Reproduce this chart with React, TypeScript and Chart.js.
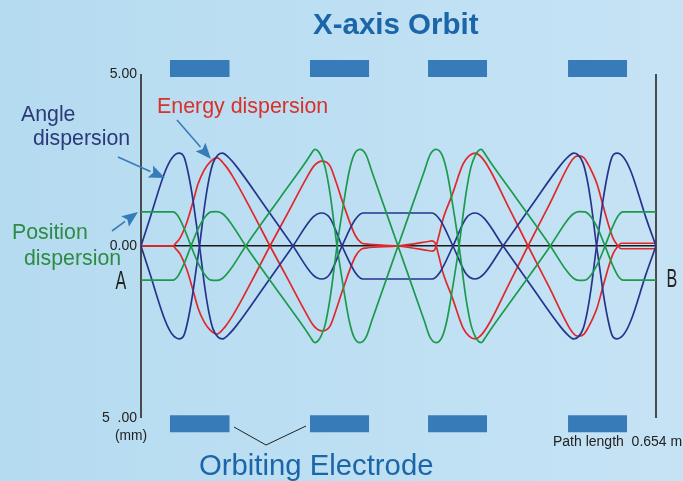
import React, { useEffect, useRef } from "react";
import { Chart, registerables } from "chart.js";

Chart.register(...registerables);

const angleX = [0, 11.4, 30.5, 39.4, 48.3, 54.6, 59.7, 66, 69.9, 74.3, 81.3, 86.4, 91.4, 97.8, 103.5, 110.5, 120.7, 156.7, 193, 218.4, 229.5, 240, 255.3, 271.8, 281.9, 326.4, 369.6, 379.7, 396.2, 412.8, 424.2, 435.6, 459.8, 496.1, 532.1, 542.3, 549.3, 555, 561.4, 566.4, 571.5, 578.5, 582.9, 586.8, 593.1, 598.2, 604.5, 613.4, 622.3, 641.4, 654];
const angleY = [0, 0.81, 2.16, 2.56, 2.7, 2.59, 2.15, 1.34, 0.7, 0, -1.25, -1.95, -2.41, -2.65, -2.7, -2.59, -2.33, -1.18, 0, 0.84, 0.96, 0.81, 0, -0.76, -0.96, -0.96, -0.96, -0.76, 0, 0.81, 0.96, 0.81, 0, -1.18, -2.33, -2.59, -2.7, -2.65, -2.41, -1.95, -1.25, 0, 0.7, 1.34, 2.15, 2.59, 2.7, 2.56, 2.16, 0.81, 0];

const positionX = [0, 40.6, 47, 54.6, 63.5, 72.4, 81.3, 88.9, 96.5, 104.1, 113, 133, 177.8, 208.3, 214.6, 221, 224.8, 228.6, 233.7, 240, 248.9, 256.5, 264.2, 270.5, 278.1, 285.8, 293.4, 326.4, 359.4, 367, 374.7, 382.3, 388.6, 396.3, 403.9, 412.8, 419.1, 424.2, 428, 431.8, 438.2, 444.5, 475, 519.8, 539.8, 548.7, 556.3, 563.9, 571.5, 580.4, 589.3, 598.2, 605.8, 612.2, 654];
const positionY = [0.99, 0.99, 0.87, 0.52, 0, -0.49, -0.84, -0.99, -1, -0.93, -0.7, 0, 1.44, 2.41, 2.63, 2.81, 2.76, 2.62, 2.3, 1.54, 0, -1.13, -2.15, -2.65, -2.81, -2.65, -2.15, 0, 2.15, 2.65, 2.81, 2.65, 2.15, 1.13, 0, -1.54, -2.3, -2.62, -2.76, -2.81, -2.63, -2.41, -1.44, 0, 0.7, 0.93, 1, 0.99, 0.84, 0.49, 0, -0.52, -0.87, -0.99, -0.99];

const energyX = [0, 40.6, 44.5, 49.5, 58.4, 66, 72.4, 80, 87.6, 96.5, 106.7, 116.8, 141, 163.8, 186.7, 209.6, 219.7, 229.9, 240, 247.7, 256.5, 271.8, 279.4, 285.8, 326.4, 364.5, 369.6, 373.4, 378.5, 383.5, 395, 408.9, 416.6, 424.2, 433.1, 443.2, 467.4, 491.5, 518.2, 544.8, 551.2, 556.3, 562.6, 567.7, 572.8, 579.1, 585.5, 591.8, 599.4, 605.8, 609.6, 614.7, 654];
const energyY = [0, 0, 0.09, 0.23, 0.7, 1.28, 1.8, 2.2, 2.44, 2.56, 2.35, 2.01, 1, 0, -0.97, -1.95, -2.33, -2.47, -2.33, -1.86, -1.25, -0.32, -0.1, -0.06, 0, 0.13, 0.15, 0.09, -0.32, -0.78, -1.48, -2.38, -2.62, -2.7, -2.56, -2.21, -1.1, 0, 1.19, 2.41, 2.59, 2.62, 2.56, 2.38, 2.15, 1.8, 1.28, 0.76, 0.23, 0, -0.08, -0.08, -0.08];

const electrodeStarts = [36.8, 214.6, 364.5, 542.3];
const electrodeEnds = [112.4, 289.6, 439.4, 617.2];
const electrodeRows = [5.16, -5.17];

const yTicks = [-5, 0, 5];
const xEdges = [0, 654];

const ANGLE = "#26348c";
const POSITION = "#1c9a4c";
const ENERGY = "#e0282a";
const ELECTRODE = "#377cb9";
const FONT = '"Liberation Sans", Arial, sans-serif';

const zip = (xs: number[], ys: number[]) => xs.map((x, i) => ({ x, y: ys[i] }));
const neg = (ys: number[]) => ys.map((v) => -v);

const curve = (data: { x: number; y: number }[], color: string) => ({
  data,
  borderColor: color,
  borderWidth: 1.7,
  pointRadius: 0,
  cubicInterpolationMode: "monotone" as const,
  fill: false,
});

const texts: [string, number, number, string, string][] = [
  ["X-axis Orbit", 313, 26, `bold 29.5px ${FONT}`, "#1a66a8"],
  ["Energy dispersion", 157, 107, `21.4px ${FONT}`, "#d9302a"],
  ["Angle", 21, 115, `21.3px ${FONT}`, "#2a3a78"],
  ["dispersion", 33, 139, `21.3px ${FONT}`, "#2a3a78"],
  ["Position", 12, 233, `21.3px ${FONT}`, "#2e8b45"],
  ["dispersion", 24, 259, `21.3px ${FONT}`, "#2e8b45"],
  ["Orbiting Electrode", 199, 467, `29.3px ${FONT}`, "#1a66a8"],
  ["(mm)", 115, 436, `13.8px ${FONT}`, "#222222"],
  ["Path length  0.654 m", 553, 442, `14px ${FONT}`, "#222222"],
];

const arrows = [
  [177, 120, 211, 159],
  [118, 157, 165, 178],
  [112, 231, 138, 212],
];

const decorPlugin = {
  id: "decor",
  beforeDraw(chart: Chart) {
    const { ctx, width, height } = chart;
    const g = ctx.createLinearGradient(0, 0, width, 0);
    g.addColorStop(0, "#b5dbf0");
    g.addColorStop(1, "#c6e3f5");
    ctx.save();
    ctx.fillStyle = g;
    ctx.fillRect(0, 0, width, height);
    ctx.restore();
  },
  afterDraw(chart: Chart) {
    const { ctx } = chart;
    ctx.save();
    ctx.textBaseline = "middle";
    ctx.textAlign = "left";
    for (const [t, x, y, font, color] of texts) {
      ctx.font = font;
      ctx.fillStyle = color;
      ctx.fillText(t, x, y);
    }
    for (const [t, x, y] of [["A", 121, 282], ["B", 672, 280]] as [string, number, number][]) {
      ctx.save();
      ctx.translate(x, y);
      ctx.scale(0.62, 1);
      ctx.font = `26px ${FONT}`;
      ctx.fillStyle = "#222222";
      ctx.textAlign = "center";
      ctx.fillText(t, 0, 0);
      ctx.restore();
    }
    ctx.strokeStyle = ELECTRODE;
    ctx.fillStyle = ELECTRODE;
    for (const [x0, y0, x1, y1] of arrows) {
      const a = Math.atan2(y1 - y0, x1 - x0);
      const L = 16;
      const W = 6.5;
      const bx = x1 - L * Math.cos(a);
      const by = y1 - L * Math.sin(a);
      ctx.lineWidth = 1.6;
      ctx.beginPath();
      ctx.moveTo(x0, y0);
      ctx.lineTo(bx, by);
      ctx.stroke();
      ctx.beginPath();
      ctx.moveTo(x1, y1);
      ctx.lineTo(bx - W * Math.sin(a), by + W * Math.cos(a));
      ctx.lineTo(bx + 3 * Math.cos(a), by + 3 * Math.sin(a));
      ctx.lineTo(bx + W * Math.sin(a), by - W * Math.cos(a));
      ctx.closePath();
      ctx.fill();
    }
    ctx.strokeStyle = "#222222";
    ctx.lineWidth = 1;
    ctx.beginPath();
    ctx.moveTo(234, 427);
    ctx.lineTo(266, 445);
    ctx.lineTo(306, 426);
    ctx.stroke();
    ctx.restore();
  },
};

export default function App() {
  const ref = useRef<HTMLCanvasElement>(null);
  useEffect(() => {
    if (!ref.current) return;
    const electrodes = electrodeRows.flatMap((row) =>
      electrodeStarts.map((s, i) => ({
        data: [
          { x: s, y: row },
          { x: electrodeEnds[i], y: row },
        ],
        borderColor: ELECTRODE,
        borderWidth: 17,
        borderCapStyle: "butt" as const,
        pointRadius: 0,
        clip: false as const,
      }))
    );
    const chart = new Chart(ref.current, {
      type: "line",
      data: {
        datasets: [
          curve(zip(positionX, positionY), POSITION),
          curve(zip(positionX, neg(positionY)), POSITION),
          curve(zip(angleX, angleY), ANGLE),
          curve(zip(angleX, neg(angleY)), ANGLE),
          curve(zip(energyX, energyY), ENERGY),
          curve(zip(energyX, neg(energyY)), ENERGY),
          ...electrodes,
        ] as any,
      },
      options: {
        animation: false,
        responsive: false,
        layout: { padding: { left: 0, top: 74, right: 27, bottom: 0 } },
        plugins: { legend: { display: false }, title: { display: false }, tooltip: { enabled: false } },
        scales: {
          x: {
            type: "linear",
            min: 0,
            max: 654,
            afterBuildTicks: (s: any) => {
              s.ticks = xEdges.map((value) => ({ value }));
            },
            afterFit: (s: any) => {
              s.height = 63;
            },
            ticks: { display: false },
            border: { display: false },
            grid: { color: "#4a4a4a", lineWidth: 2, drawTicks: false },
          },
          y: {
            type: "linear",
            min: -5,
            max: 5,
            afterBuildTicks: (s: any) => {
              s.ticks = yTicks.map((value) => ({ value }));
            },
            afterFit: (s: any) => {
              s.width = 141;
            },
            ticks: {
              padding: 4,
              color: "#222222",
              font: { family: "Liberation Sans", size: 14 },
              callback: (v: any) => (v < 0 ? "5  .00" : Number(v).toFixed(2)),
            },
            border: { display: false },
            grid: {
              drawTicks: false,
              color: (c: any) => (c.tick && c.tick.value === 0 ? "#1a1a1a" : "transparent"),
              lineWidth: 1.4,
            },
          },
        },
      },
      plugins: [decorPlugin as any],
    });
    return () => chart.destroy();
  }, []);
  return (
    <canvas
      ref={ref}
      width={683}
      height={481}
      style={{ position: "absolute", left: 0, top: 0, display: "block" }}
    />
  );
}
